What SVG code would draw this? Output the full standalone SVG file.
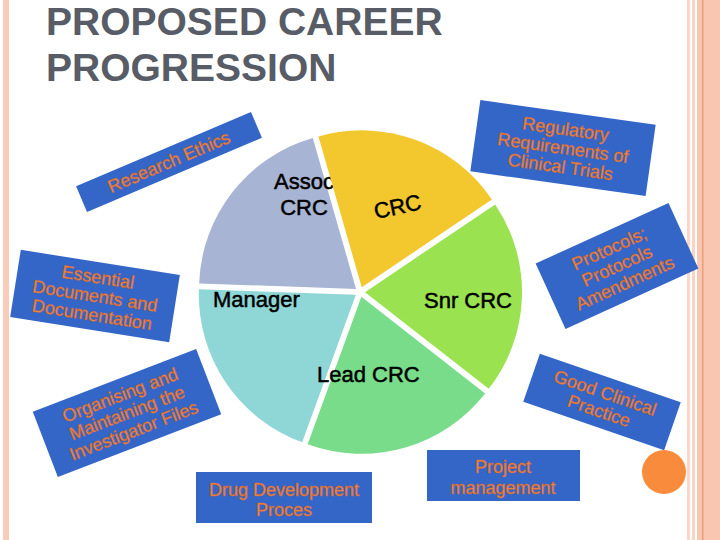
<svg xmlns="http://www.w3.org/2000/svg" width="720" height="540" viewBox="0 0 720 540">
<style>
.title{font-family:"Liberation Sans",Arial,sans-serif;font-size:39px;font-weight:bold;fill:#575C66}
.pl{font-family:"Liberation Sans",Arial,sans-serif;font-size:22px;fill:#000;stroke:#000;stroke-width:0.5}
.box{fill:#3466C8}
.bt{font-family:"Liberation Sans",Arial,sans-serif;font-size:18px;fill:#F58A48;stroke:#C9622C;stroke-width:0.5;text-anchor:middle}
</style>
<rect width="720" height="540" fill="#FFFFFF"/>
<g id="borders">
<rect x="3" y="0" width="6" height="540" fill="#F9CCB9"/>
<rect x="687" y="0" width="3" height="540" fill="#FBD7C9"/>
<rect x="692" y="0" width="3" height="540" fill="#FBD3C4"/>
<rect x="697" y="0" width="23" height="540" fill="#F9C6B2"/>
<rect x="702" y="0" width="1.5" height="540" fill="#EE9C78"/>
</g>
<g id="title">
<text class="title" x="46" y="35">PROPOSED CAREER</text>
<text class="title" x="46" y="81">PROGRESSION</text>
</g>
<g id="pie">
<g id="slice-manager">
<path d="M355.85,294.8 L302.15,442.3 A157,157 0 0 1 198.95,289.3 Z" fill="#8FD6D6"/>
<text class="pl" x="213" y="307">Manager</text>
</g>
<g id="slice-assoc">
<path d="M356.06,288.92 L199.16,283.44 A157,157 0 0 1 312.79,138 Z" fill="#A8B4D4"/>
<text class="pl" x="304" y="189" text-anchor="middle">Assoc</text>
<text class="pl" x="304" y="215" text-anchor="middle">CRC</text>
</g>
<g id="slice-crc">
<path d="M361.71,287.3 L318.44,136.38 A157,157 0 0 1 491.87,199.51 Z" fill="#F2C82E"/>
<text class="pl" x="399" y="214" font-size="23" text-anchor="middle" transform="rotate(-12 399 214)">CRC</text>
</g>
<g id="slice-snr">
<path d="M365,292.17 L495.16,204.38 A157,157 0 0 1 488.72,388.83 Z" fill="#9BE250"/>
<text class="pl" x="424" y="308">Snr CRC</text>
</g>
<g id="slice-lead">
<path d="M361.38,296.81 L485.1,393.47 A157,157 0 0 1 307.68,444.34 Z" fill="#78DC8B"/>
<text class="pl" x="317" y="382">Lead CRC</text>
</g>
</g>
<g id="connectors"></g>
<g id="research-ethics" transform="translate(169,162) rotate(-23)">
<rect class="box" x="-95" y="-14" width="190" height="28"/>
<text class="bt" x="0" y="6">Research Ethics</text>
</g>
<g id="regulatory" transform="translate(563,148) rotate(8)">
<rect class="box" x="-88.5" y="-36" width="177" height="72"/>
<text class="bt" x="0" y="-13">Regulatory</text>
<text class="bt" x="0" y="6">Requirements of</text>
<text class="bt" x="0" y="25">Clinical Trials</text>
</g>
<g id="essential" transform="translate(95,296) rotate(9)">
<rect class="box" x="-80.5" y="-34" width="161" height="68"/>
<text class="bt" x="0" y="-13" font-size="17.5">Essential</text>
<text class="bt" x="0" y="6" font-size="17.5">Documents and</text>
<text class="bt" x="0" y="25" font-size="17.5">Documentation</text>
</g>
<g id="protocols" transform="translate(617,266) rotate(-24.5)">
<rect class="box" x="-73" y="-36" width="146" height="72"/>
<text class="bt" x="0" y="-13">Protocols;</text>
<text class="bt" x="0" y="6">Protocols</text>
<text class="bt" x="0" y="25">Amendments</text>
</g>
<g id="organising" transform="translate(127,413) rotate(-21)">
<rect class="box" x="-87.5" y="-35" width="175" height="70"/>
<text class="bt" x="0" y="-13">Organising and</text>
<text class="bt" x="0" y="6">Maintaining the</text>
<text class="bt" x="0" y="25">Investigator Files</text>
</g>
<g id="gcp" transform="translate(602,402) rotate(19)">
<rect class="box" x="-74.5" y="-25.5" width="149" height="51"/>
<text class="bt" x="0" y="-3.5">Good Clinical</text>
<text class="bt" x="0" y="15.5">Practice</text>
</g>
<g id="drug-dev">
<rect class="box" x="196" y="472" width="176" height="51"/>
<text class="bt" x="284" y="496" font-size="17.5">Drug Development</text>
<text class="bt" x="284" y="516" font-size="17.5">Proces</text>
</g>
<g id="project">
<rect class="box" x="427" y="450" width="153" height="51"/>
<text class="bt" x="503" y="473" font-size="17.5">Project</text>
<text class="bt" x="503" y="494" font-size="17.5">management</text>
</g>
<g id="orange-dot">
<circle cx="664" cy="472" r="22" fill="#F98B3D"/>
</g>
</svg>
